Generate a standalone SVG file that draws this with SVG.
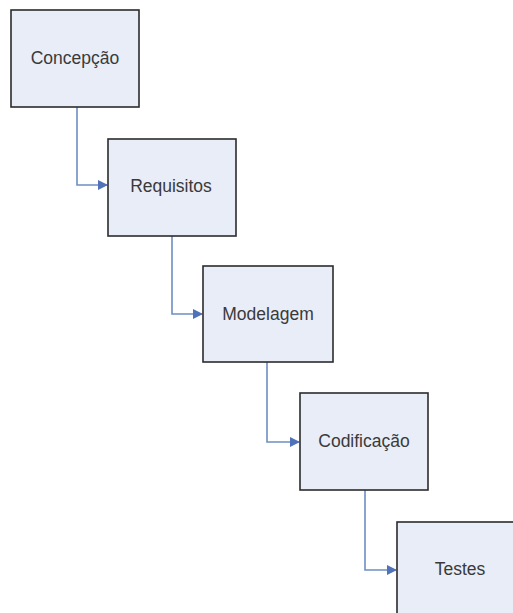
<svg xmlns="http://www.w3.org/2000/svg" width="513" height="613" viewBox="0 0 513 613">
<style>
.box{fill:#e8edf7;stroke:#2b2b2b;stroke-width:1.6}
.lbl{font-family:"Liberation Sans",Arial,sans-serif;font-size:17.5px;fill:#3a3a3a;text-anchor:middle;dominant-baseline:central}
.con{fill:none;stroke:#6f8ec4;stroke-width:1.6}
</style>
<defs>
<marker id="arr" markerWidth="10" markerHeight="10" refX="9" refY="5" orient="auto" markerUnits="userSpaceOnUse">
<path d="M0,0 L10,5 L0,10 Z" fill="#4f72b8"/>
</marker>
</defs>
<rect width="513" height="613" fill="#ffffff"/>
<g id="connectors">
<path class="con" d="M77,107 V185 H107" marker-end="url(#arr)"/>
<path class="con" d="M172,236 V314 H202" marker-end="url(#arr)"/>
<path class="con" d="M267,362 V442 H299" marker-end="url(#arr)"/>
<path class="con" d="M365,490 V570 H396" marker-end="url(#arr)"/>
</g>
<g id="concepcao">
<rect class="box" x="11" y="10" width="128" height="97"/>
<text class="lbl" x="75" y="58">Concepção</text>
</g>
<g id="requisitos">
<rect class="box" x="108" y="139" width="128" height="97"/>
<text class="lbl" x="171" y="186">Requisitos</text>
</g>
<g id="modelagem">
<rect class="box" x="203" y="266" width="130" height="96"/>
<text class="lbl" x="268" y="314">Modelagem</text>
</g>
<g id="codificacao">
<rect class="box" x="300" y="393" width="128" height="97"/>
<text class="lbl" x="364" y="441">Codificação</text>
</g>
<g id="testes">
<rect class="box" x="397" y="522" width="128" height="97"/>
<text class="lbl" x="460" y="569">Testes</text>
</g>
</svg>
